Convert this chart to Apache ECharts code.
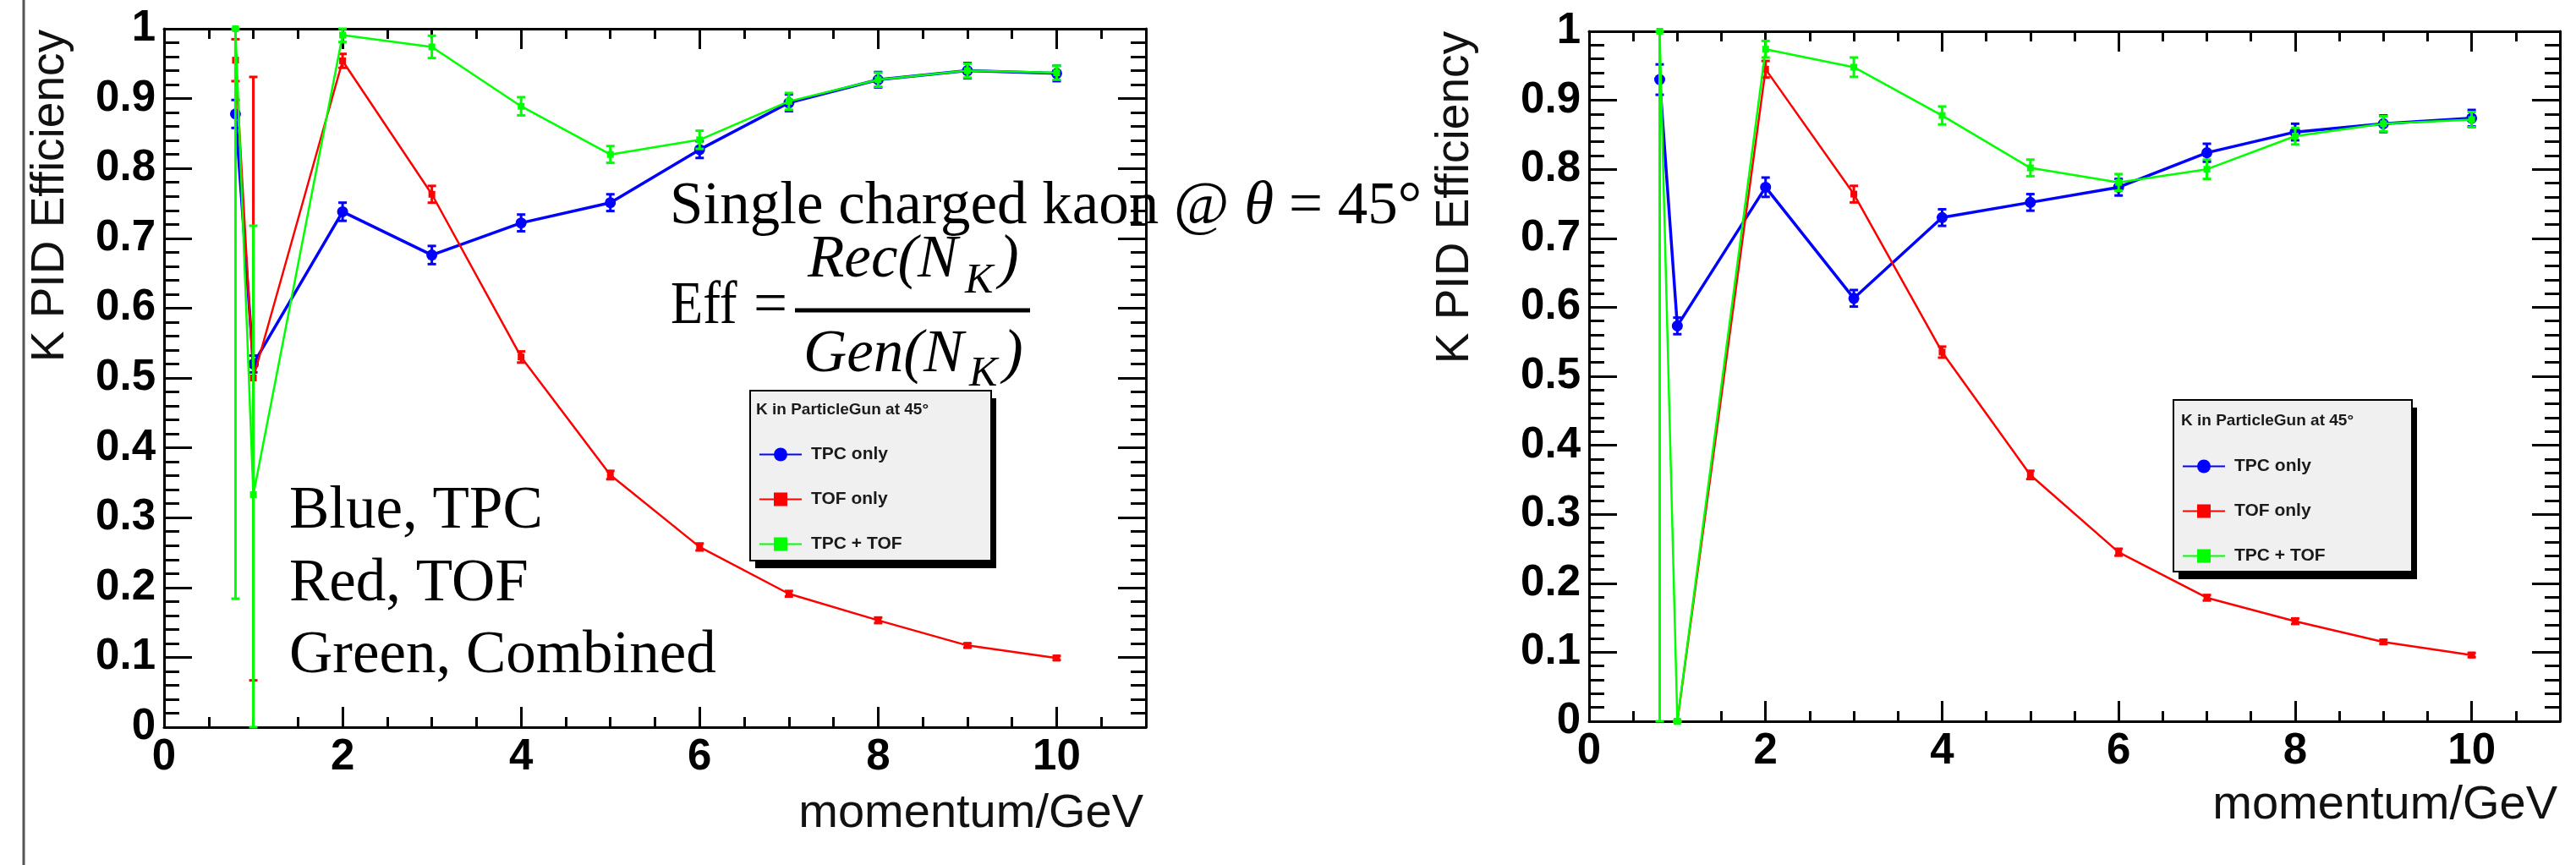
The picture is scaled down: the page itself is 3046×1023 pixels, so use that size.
<!DOCTYPE html>
<html><head><meta charset="utf-8">
<script src="https://cdn.jsdelivr.net/npm/echarts@6/dist/echarts.min.js"></script>
<style>html,body{margin:0;padding:0;background:#fff}#c{width:3046px;height:1023px}</style>
</head><body><div id="c"></div>
<script>
// ---------------- data ----------------
const momentum = [0.8, 1, 2, 3, 4, 5, 6, 7, 8, 9, 10];
const xTickLabels = ['0', '2', '4', '6', '8', '10'];
const seriesNames = ['TPC only', 'TOF only', 'TPC + TOF'];

// left panel
const tpcLeft      = [0.878, 0.520, 0.738, 0.676, 0.722, 0.751, 0.827, 0.894, 0.927, 0.940, 0.936];
const tpcLeftErr   = [0.020, 0.012, 0.013, 0.013, 0.012, 0.012, 0.012, 0.012, 0.011, 0.011, 0.011];
const tofLeft      = [0.955, 0.500, 0.954, 0.763, 0.530, 0.361, 0.258, 0.191, 0.153, 0.117, 0.099];
const tofLeftErrLo = [0.030, 0.433, 0.010, 0.012, 0.008, 0.006, 0.005, 0.004, 0.004, 0.003, 0.003];
const tofLeftErrHi = [0.030, 0.431, 0.010, 0.012, 0.008, 0.006, 0.005, 0.004, 0.004, 0.003, 0.003];
const combLeft      = [1.000, 0.333, 0.991, 0.974, 0.889, 0.820, 0.841, 0.896, 0.927, 0.940, 0.937];
const combLeftErrLo = [0.816, 0.333, 0.010, 0.016, 0.013, 0.012, 0.013, 0.012, 0.010, 0.010, 0.010];
const combLeftErrHi = [0.000, 0.385, 0.009, 0.016, 0.013, 0.012, 0.013, 0.012, 0.010, 0.010, 0.010];

// right panel
const tpcRight      = [0.930, 0.573, 0.774, 0.613, 0.730, 0.752, 0.774, 0.824, 0.854, 0.866, 0.874];
const tpcRightErr   = [0.022, 0.012, 0.014, 0.012, 0.012, 0.012, 0.012, 0.013, 0.012, 0.012, 0.012];
const tofRight      = [null,  0.000, 0.945, 0.764, 0.535, 0.357, 0.245, 0.179, 0.145, 0.115, 0.096];
const tofRightErr   = [0.000, 0.000, 0.012, 0.012, 0.008, 0.006, 0.005, 0.004, 0.004, 0.003, 0.003];
const combRight      = [1.000, 0.000, 0.974, 0.948, 0.878, 0.802, 0.781, 0.800, 0.848, 0.866, 0.872];
const combRightErrLo = [1.000, 0.000, 0.012, 0.014, 0.013, 0.012, 0.012, 0.014, 0.012, 0.011, 0.011];
const combRightErrHi = [0.000, 0.000, 0.012, 0.014, 0.013, 0.012, 0.012, 0.014, 0.012, 0.011, 0.011];

// ---------------- helpers ----------------
const SANS = 'Liberation Sans, Arial, sans-serif';
const SERIF = 'Liberation Serif, Times New Roman, serif';
const COLORS = ['#0000ff', '#ff0000', '#00ff00'];

function pts(vals) { return momentum.map((x, i) => [x, vals[i]]); }
function errPts(vals, lo, hi) {
  return momentum.map((x, i) => vals[i] == null ? [x, null, null]
    : [x, Math.max(0, vals[i] - lo[i]), Math.min(1, vals[i] + hi[i])]);
}

function xAxes(grid) {
  const base = { gridIndex: grid, type: 'value', min: 0, max: 11, splitLine: { show: false } };
  const lineStyle = { color: '#000', width: 3 };
  return [
    Object.assign({}, base, { position: 'bottom', interval: 2,
      axisLine: { show: true, onZero: false, lineStyle },
      axisTick: { show: true, inside: true, length: 24, lineStyle },
      axisLabel: { show: true, margin: 10, fontSize: 51, fontWeight: 'bold', fontFamily: SANS, color: '#000',
        formatter: v => (v <= 10 && Math.abs(v % 2) < 1e-9) ? xTickLabels[Math.round(v / 2)] : '' } }),
    Object.assign({}, base, { position: 'bottom', interval: 0.5,
      axisLine: { show: false, onZero: false }, axisLabel: { show: false },
      axisTick: { show: true, inside: true, length: 12, lineStyle } }),
    Object.assign({}, base, { position: 'top', interval: 2,
      axisLine: { show: true, onZero: false, lineStyle }, axisLabel: { show: false },
      axisTick: { show: true, inside: true, length: 24, lineStyle } }),
    Object.assign({}, base, { position: 'top', interval: 0.5,
      axisLine: { show: false, onZero: false }, axisLabel: { show: false },
      axisTick: { show: true, inside: true, length: 12, lineStyle } })
  ];
}
function yAxes(grid) {
  const lineStyle = { color: '#000', width: 3 };
  const base = { gridIndex: grid, type: 'value', min: 0, max: 1, interval: 0.1, splitLine: { show: false },
    axisLine: { show: true, onZero: false, lineStyle },
    axisTick: { show: true, inside: true, length: 33, lineStyle },
    minorTick: { show: true, splitNumber: 5, length: 18, lineStyle } };
  return [
    Object.assign({}, base, { position: 'left',
      axisLabel: { show: true, margin: 10, fontSize: 51, fontWeight: 'bold', fontFamily: SANS, color: '#000' } }),
    Object.assign({}, base, { position: 'right', axisLabel: { show: false } })
  ];
}

function lineSeries(name, vals, xi, yi, idx) {
  const sym = ['circle', 'rect', 'rect'][idx];
  const size = [13, 8, 8][idx];
  const width = [3.5, 2.5, 2.5][idx];
  return { type: 'line', name, data: pts(vals), xAxisIndex: xi, yAxisIndex: yi,
    symbol: sym, symbolSize: size, showSymbol: true, connectNulls: false,
    lineStyle: { color: COLORS[idx], width }, itemStyle: { color: COLORS[idx] },
    z: 3 + idx, animation: false, silent: true };
}
function errSeries(name, vals, lo, hi, xi, yi, idx) {
  const color = COLORS[idx];
  return { type: 'custom', name, xAxisIndex: xi, yAxisIndex: yi, data: errPts(vals, lo, hi),
    z: 3 + idx, animation: false, silent: true,
    renderItem: (params, api) => {
      const x = api.value(0);
      const lo = api.value(1), hi = api.value(2);
      if (lo == null || hi == null || isNaN(lo) || isNaN(hi)) return null;
      const p1 = api.coord([x, lo]);
      const p2 = api.coord([x, hi]);
      const st = { stroke: color, lineWidth: 3 };
      return { type: 'group', children: [
        { type: 'line', shape: { x1: p1[0], y1: p1[1], x2: p2[0], y2: p2[1] }, style: st },
        { type: 'line', shape: { x1: p1[0] - 5, y1: p1[1], x2: p1[0] + 5, y2: p1[1] }, style: st },
        { type: 'line', shape: { x1: p2[0] - 5, y1: p2[1], x2: p2[0] + 5, y2: p2[1] }, style: st }
      ] };
    } };
}

function legendCfg(left, top, padTop) {
  return { show: true, orient: 'vertical', left, top, selectedMode: false, z: 8,
    data: seriesNames, itemWidth: 50, itemHeight: 20, itemGap: 32,
    backgroundColor: 'transparent', borderWidth: 0,
    padding: [padTop, 0, 0, 10],
    textStyle: { fontFamily: SANS, fontWeight: 'bold', fontSize: 21, color: '#1a1a1a', lineHeight: 20, padding: [0, 0, 0, 6] } };
}
function legendBox(x, y, w, h) {
  return [
    { type: 'rect', z: 6, silent: true, shape: { x: x + 6, y: y + 9, width: w, height: h }, style: { fill: '#000' } },
    { type: 'rect', z: 7, silent: true, shape: { x, y, width: w, height: h }, style: { fill: '#f0f0f0', stroke: '#000', lineWidth: 2 } }
  ];
}

function txt(x, y, text, size, opts, extra) {
  return Object.assign({ type: 'text', x, y, z: 100, silent: true,
    style: Object.assign({ text, fontSize: size, fontFamily: SERIF, fill: '#000', align: 'left', verticalAlign: 'middle' }, opts || {}) }, extra || {});
}

const option = {
  animation: false,
  backgroundColor: '#fff',
  grid: [
    { left: 194, top: 34, width: 1161, height: 826, outerBoundsMode: 'none', containLabel: false },
    { left: 1879, top: 37, width: 1148, height: 816, outerBoundsMode: 'none', containLabel: false }
  ],
  xAxis: xAxes(0).concat(xAxes(1)),
  yAxis: yAxes(0).concat(yAxes(1)),
  legend: [legendCfg(887, 462, 65), legendCfg(2570, 473, 68)],
  series: [
    lineSeries(seriesNames[0], tpcLeft, 0, 0, 0),
    errSeries(seriesNames[0], tpcLeft, tpcLeftErr, tpcLeftErr, 0, 0, 0),
    lineSeries(seriesNames[1], tofLeft, 0, 0, 1),
    errSeries(seriesNames[1], tofLeft, tofLeftErrLo, tofLeftErrHi, 0, 0, 1),
    lineSeries(seriesNames[2], combLeft, 0, 0, 2),
    errSeries(seriesNames[2], combLeft, combLeftErrLo, combLeftErrHi, 0, 0, 2),
    lineSeries(seriesNames[0], tpcRight, 4, 2, 0),
    errSeries(seriesNames[0], tpcRight, tpcRightErr, tpcRightErr, 4, 2, 0),
    lineSeries(seriesNames[1], tofRight, 4, 2, 1),
    errSeries(seriesNames[1], tofRight, tofRightErr, tofRightErr, 4, 2, 1),
    lineSeries(seriesNames[2], combRight, 4, 2, 2),
    errSeries(seriesNames[2], combRight, combRightErrLo, combRightErrHi, 4, 2, 2)
  ],
  graphic: [].concat(
    legendBox(887, 462, 285, 201),
    legendBox(2570, 473, 282, 203),
    [
    // left page margin line
    { type: 'line', z: 100, silent: true, shape: { x1: 28, y1: 0, x2: 28, y2: 1023 }, style: { stroke: '#555', lineWidth: 3 } },
    // axis titles
    { type: 'text', x: 60, y: 35, rotation: Math.PI / 2, z: 100, silent: true,
      style: { text: 'K PID Efficiency', fontSize: 55, fontFamily: SANS, fill: '#111', align: 'right', verticalAlign: 'middle' } },
    { type: 'text', x: 1721, y: 37, rotation: Math.PI / 2, z: 100, silent: true,
      style: { text: 'K PID Efficiency', fontSize: 55, fontFamily: SANS, fill: '#111', align: 'right', verticalAlign: 'middle' } },
    txt(1352, 963, 'momentum/GeV', 56, { fontFamily: SANS, fill: '#111', align: 'right' }),
    txt(3024, 953, 'momentum/GeV', 56, { fontFamily: SANS, fill: '#111', align: 'right' }),
    // legend headers
    txt(894, 485, 'K in ParticleGun at 45°', 19, { fontFamily: SANS, fontWeight: 'bold', fill: '#1a1a1a' }),
    txt(2579, 498, 'K in ParticleGun at 45°', 19, { fontFamily: SANS, fontWeight: 'bold', fill: '#1a1a1a' }),
    // annotations
    { type: 'text', x: 792, y: 245, z: 100, silent: true,
      style: { text: '{n|Single charged kaon @ }{i|θ}{n| = 45°}', align: 'left', verticalAlign: 'middle',
        rich: { n: { fontFamily: SERIF, fontSize: 71, fill: '#000' },
                i: { fontFamily: SERIF, fontSize: 71, fontStyle: 'italic', fill: '#000' } } } },
    txt(793, 363, 'Eff', 71, {}, { scaleX: 0.88 }),
    txt(891, 363, '=', 71),
    txt(955, 308, 'Rec(N', 71, { fontStyle: 'italic' }),
    txt(1141, 333, 'K', 50, { fontStyle: 'italic' }),
    txt(1181, 308, ')', 71, { fontStyle: 'italic' }),
    { type: 'line', z: 100, silent: true, shape: { x1: 940, y1: 367, x2: 1218, y2: 367 }, style: { stroke: '#000', lineWidth: 5 } },
    txt(950, 420, 'Gen(N', 71, { fontStyle: 'italic' }),
    txt(1146, 443, 'K', 50, { fontStyle: 'italic' }),
    txt(1186, 420, ')', 71, { fontStyle: 'italic' }),
    txt(342, 605, 'Blue, TPC', 71),
    txt(342, 691, 'Red, TOF', 71),
    txt(342, 776, 'Green, Combined', 71)
    ])
};

const chart = echarts.init(document.getElementById('c'), null, { renderer: 'canvas', width: 3046, height: 1023 });
chart.setOption(option);
</script>
</body></html>
